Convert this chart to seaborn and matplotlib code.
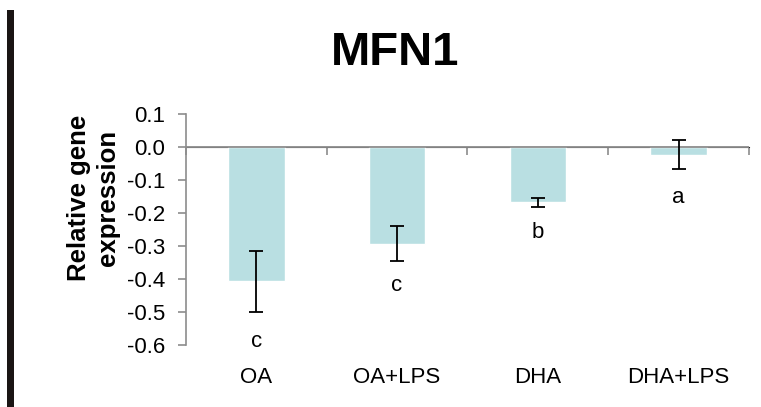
import numpy as np
import pandas as pd
import matplotlib
matplotlib.use('Agg')
import matplotlib.pyplot as plt
from matplotlib.patches import Rectangle
import seaborn as sns

# dados
tratamentos = ['OA', 'OA+LPS', 'DHA', 'DHA+LPS']
expressao = [-0.407, -0.293, -0.168, -0.023]
erro = [0.093, 0.053, 0.013, 0.045]
letras = ['c', 'c', 'b', 'a']
pos_letras = [-0.59, -0.42, -0.258, -0.152]
yticks = [0.1, 0.0, -0.1, -0.2, -0.3, -0.4, -0.5, -0.6]

sns.set_style('white')
plt.rcParams['font.family'] = ['Liberation Sans', 'DejaVu Sans']
plt.rcParams['axes.unicode_minus'] = False
plt.rcParams['text.color'] = 'black'
plt.rcParams['xtick.color'] = 'black'
plt.rcParams['ytick.color'] = 'black'
plt.rcParams['axes.labelcolor'] = 'black'

cor_barra = '#B9DFE2'
cinza = '#8C8C8C'

df = pd.DataFrame({'tratamento': tratamentos, 'expressao': expressao})

fig = plt.figure(figsize=(7.61, 4.07), dpi=100)
ax = fig.add_axes([0.2444, 0.1523, 0.7398, 0.5676])

sns.barplot(data=df, x='tratamento', y='expressao', color=cor_barra,
            saturation=1, width=0.4, errorbar=None, ax=ax)
ax.axhline(0, color=cinza, lw=1.3, zorder=4)
ax.errorbar(np.arange(len(tratamentos)), expressao, yerr=erro, fmt='none',
            ecolor='black', elinewidth=1.3, capsize=5, capthick=1.3, zorder=5)

for i, (l, yl) in enumerate(zip(letras, pos_letras)):
    ax.text(i, yl, l, ha='center', va='center', fontsize=16)

ax.set_ylim(-0.6, 0.1)
ax.set_xlim(-0.5, len(tratamentos) - 0.5)
ax.set_yticks(yticks)
ax.set_yticklabels([f'{v:.1f}' for v in yticks], fontsize=16)
ax.tick_params(axis='y', direction='out', length=6, width=1.2, color=cinza,
               labelcolor='black', pad=9, left=True)
ax.tick_params(axis='x', length=0, pad=16, labelsize=16, labelcolor='black')
ax.set_xlabel('')
ax.set_ylabel('Relative gene\nexpression', fontsize=18.5, fontweight='bold',
              linespacing=1.25)
ax.yaxis.set_label_coords(-0.117, 0.636)

for s in ['top', 'right', 'bottom']:
    ax.spines[s].set_visible(False)
ax.spines['left'].set_color(cinza)
ax.spines['left'].set_linewidth(1.2)

# marcas entre categorias na linha do zero
ymin, ymax = ax.get_ylim()
loc_zero = (0 - ymin) / (ymax - ymin)
sec = ax.secondary_xaxis(loc_zero)
sec.set_xticks(np.arange(len(tratamentos) + 1) - 0.5)
sec.xaxis.set_ticks_position('bottom')
sec.set_xticklabels([])
sec.tick_params(direction='out', length=6, width=1.2, color=cinza)

fig.text(0.519, 0.87, 'MFN1', ha='center', va='center', fontsize=34,
         fontweight='bold', color='black')

# faixa escura na borda esquerda
fig.patches.append(Rectangle((0.0092, 0.0), 0.0092, 0.975, transform=fig.transFigure,
                             facecolor='#1a1514', edgecolor='none'))

fig.savefig('out.png', dpi=100)
